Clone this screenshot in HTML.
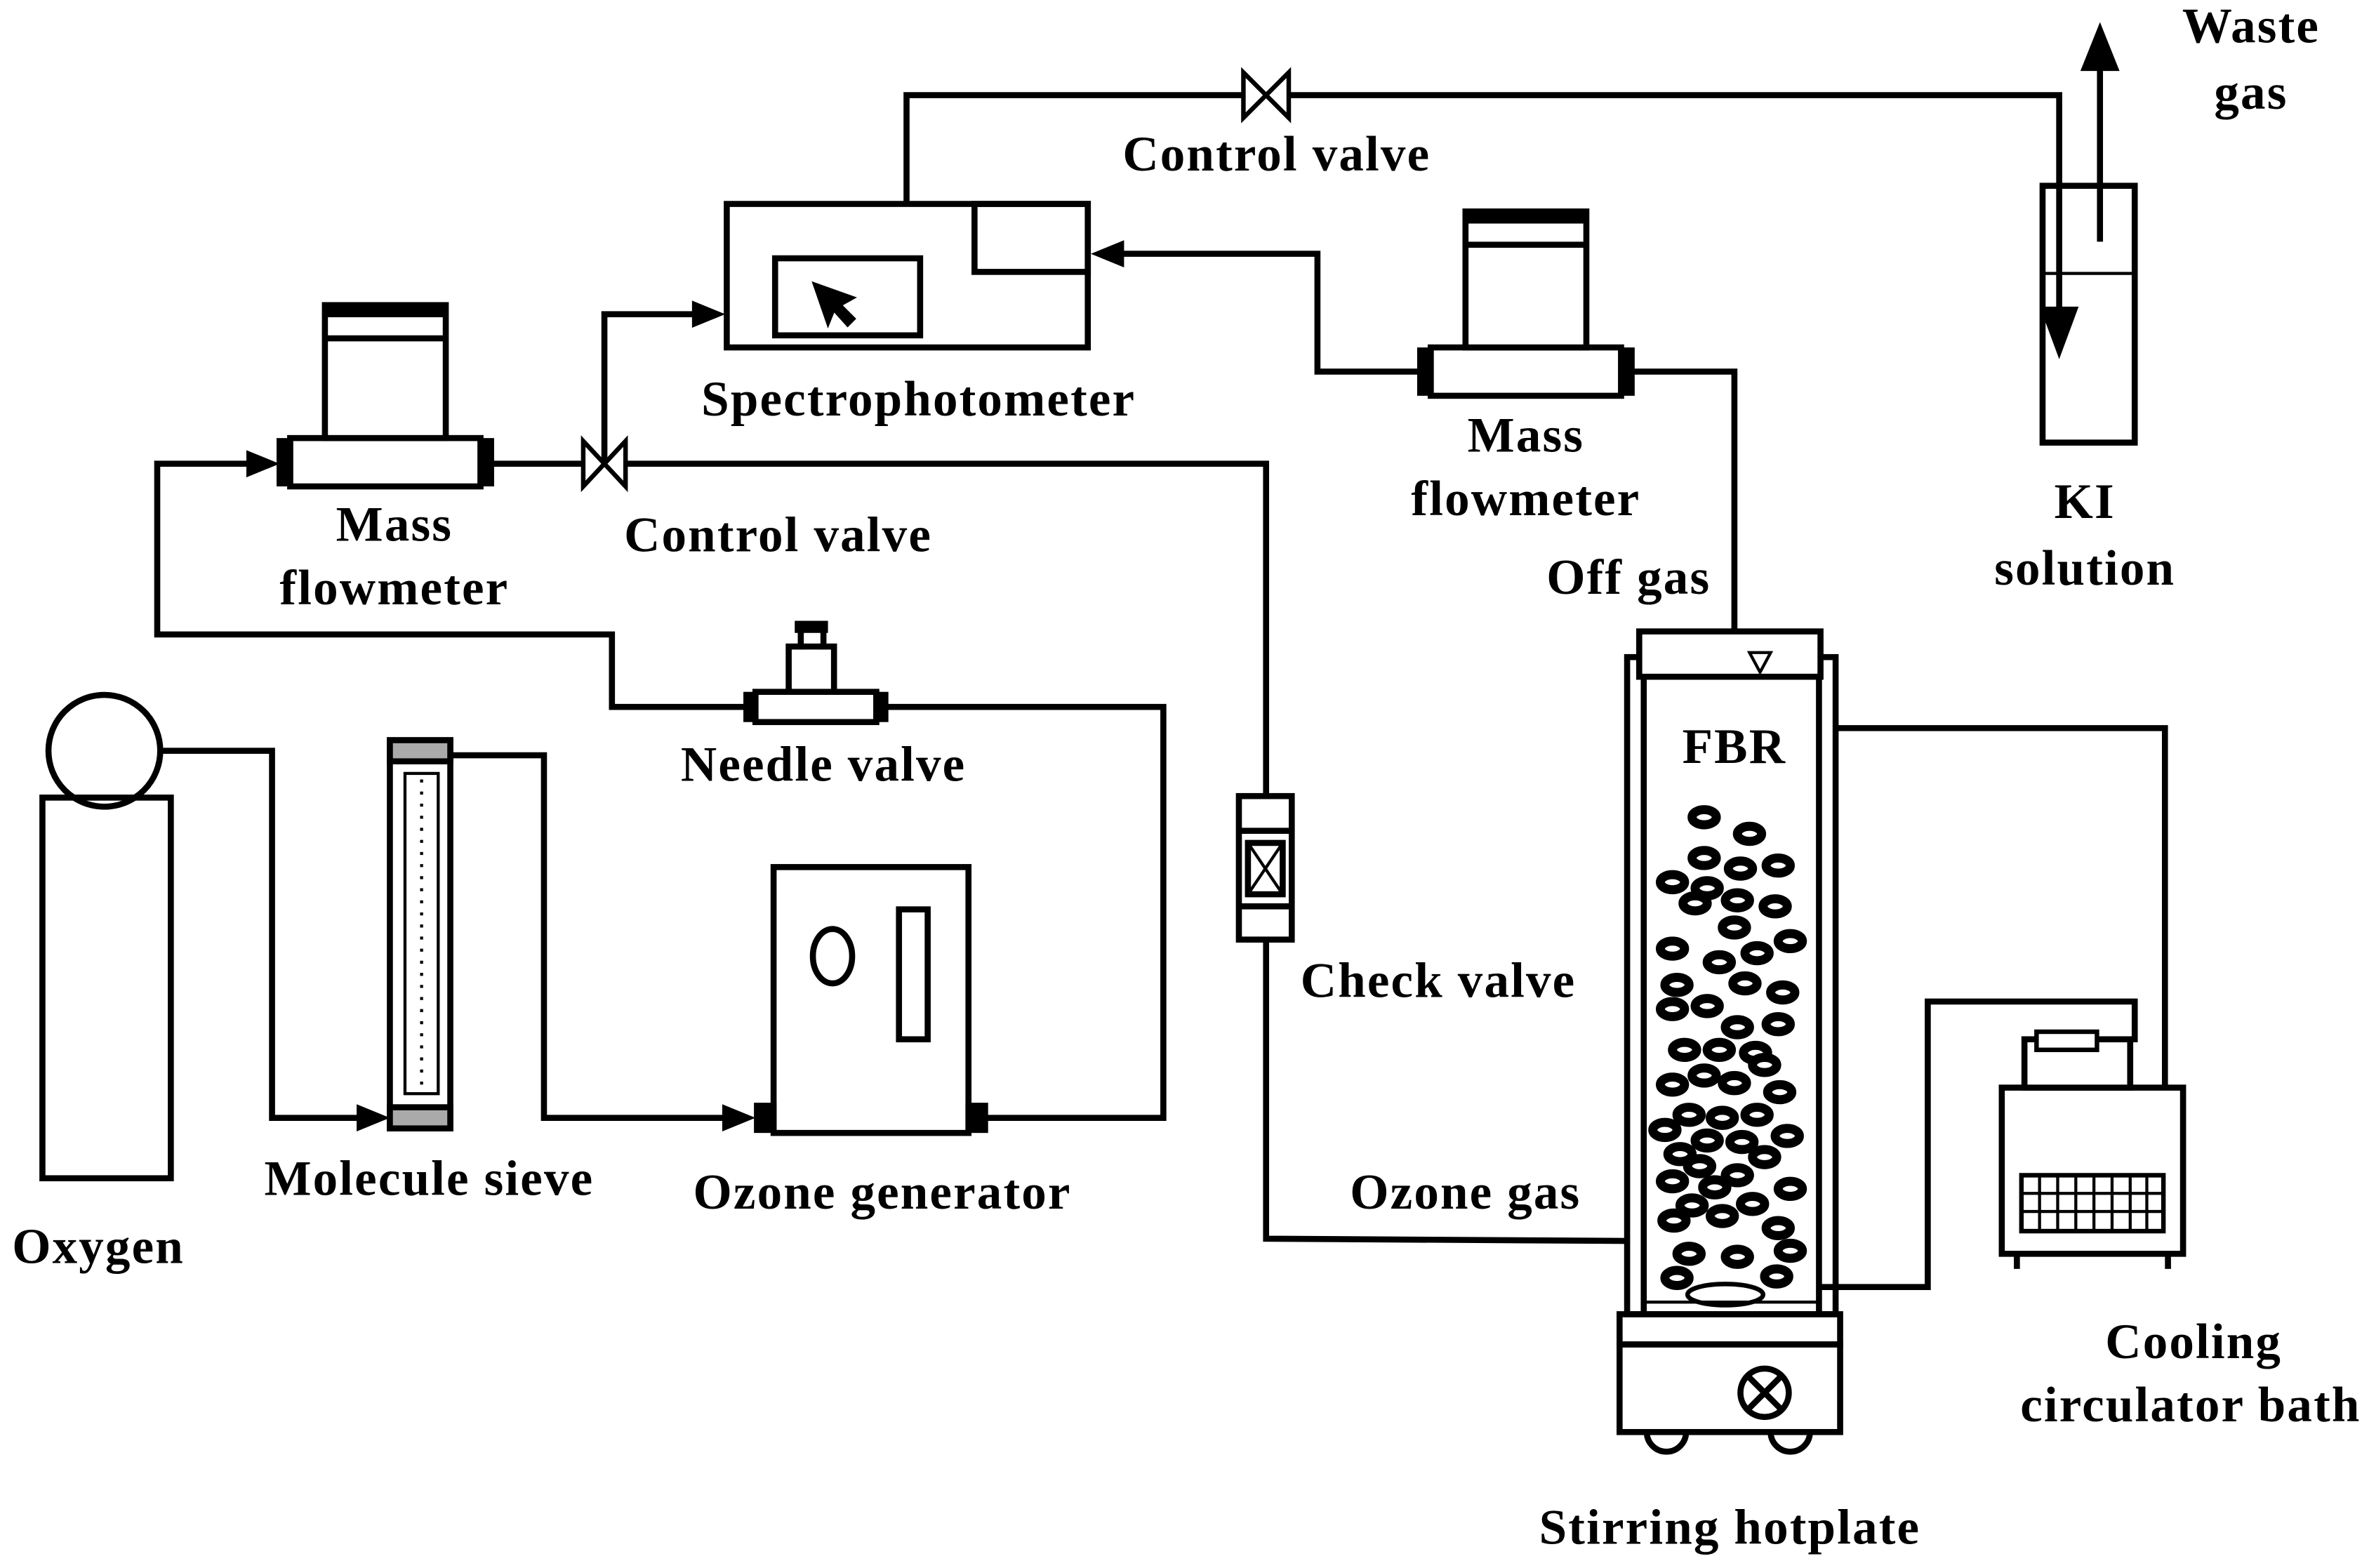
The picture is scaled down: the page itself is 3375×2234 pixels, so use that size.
<!DOCTYPE html>
<html><head><meta charset="utf-8"><style>
html,body{margin:0;padding:0;background:#fff;}
svg{display:block;}
text{font-family:"Liberation Serif",serif;font-weight:bold;font-size:33px;letter-spacing:1px;fill:#000;text-anchor:middle;}
</style></head><body>
<svg width="3375" height="2234" viewBox="0 0 1568 1038" xmlns="http://www.w3.org/2000/svg">
<g fill="none" stroke="#000" stroke-width="4">
<circle cx="69" cy="497" r="37" fill="#fff"/>
<rect x="28" y="528" width="85" height="252"/>
<polyline points="106,497 180,497 180,740 238,740"/>
<rect x="258" y="490" width="40" height="257" fill="#fff"/>
<rect x="258" y="490" width="40" height="14" fill="#aaa"/>
<rect x="258" y="733" width="40" height="14" fill="#aaa"/>
<rect x="268" y="512" width="22" height="212" stroke-width="2"/>
<line x1="279" y1="516" x2="279" y2="720" stroke-width="2" stroke-dasharray="2,6"/>
<polyline points="298,500 360,500 360,740 482,740"/>
<rect x="512" y="574" width="129" height="176" fill="#fff"/>
<ellipse cx="551" cy="633" rx="13" ry="18"/>
<rect x="595" y="602" width="19" height="86"/>
<rect x="501" y="732" width="11" height="16" fill="#000"/>
<rect x="641" y="732" width="11" height="16" fill="#000"/>
<polyline points="652,740 770,740 770,468 584,468"/>
<rect x="500" y="458" width="80" height="20" fill="#fff"/>
<rect x="494" y="460" width="6" height="16" fill="#000"/>
<rect x="580" y="460" width="6" height="16" fill="#000"/>
<rect x="522" y="428" width="30" height="30" fill="#fff"/>
<line x1="526" y1="415" x2="548" y2="415" stroke-width="8"/>
<line x1="530" y1="415" x2="530" y2="430"/>
<line x1="545" y1="415" x2="545" y2="430"/>
<polyline points="494,468 405,468 405,420 104,420 104,307 167,307"/>
<rect x="192" y="290" width="126" height="32" fill="#fff"/>
<rect x="185" y="292" width="7" height="28" fill="#000"/>
<rect x="318" y="292" width="7" height="28" fill="#000"/>
<rect x="215" y="202" width="80" height="88" fill="#fff"/>
<line x1="215" y1="205" x2="295" y2="205" stroke-width="10"/>
<line x1="215" y1="224" x2="295" y2="224"/>
<polyline points="325,307 386,307"/>
<path d="M386,292 L414,322 L414,292 L386,322 Z" fill="#fff" stroke-width="3"/>
<polyline points="414,307 838,307 838,527"/>
<polyline points="400,307 400,208 462,208"/>
<rect x="481" y="135" width="239" height="95" fill="#fff"/>
<rect x="513" y="171" width="96" height="51"/>
<rect x="645" y="135" width="75" height="45"/>
<path d="M538,187 L548,216 L552,206 L561,216 L566,211 L557,202 L566,197 Z" fill="#000" stroke-width="1"/>
<polyline points="600,135 600,63 823,63"/>
<path d="M823,48 L853,78 L853,48 L823,78 Z" fill="#fff" stroke-width="3"/>
<polyline points="853,63 1363,63 1363,212"/>
<rect x="1352" y="123" width="61" height="170"/>
<line x1="1352" y1="181" x2="1413" y2="181" stroke-width="2"/>
<line x1="1390" y1="160" x2="1390" y2="40"/>
<path d="M1380,45 L1390,20 L1400,45 Z" fill="#000"/>
<path d="M1353,205 L1363,232 L1373,205 Z" fill="#000"/>
<rect x="947" y="230" width="126" height="32" fill="#fff"/>
<rect x="940" y="232" width="7" height="28" fill="#000"/>
<rect x="1073" y="232" width="7" height="28" fill="#000"/>
<rect x="970" y="140" width="80" height="90" fill="#fff"/>
<line x1="970" y1="143" x2="1050" y2="143" stroke-width="10"/>
<line x1="970" y1="162" x2="1050" y2="162"/>
<polyline points="940,246 872,246 872,168 740,168"/>
<polyline points="1080,246 1148,246 1148,420"/>
<rect x="820" y="527" width="35" height="95" fill="#fff"/>
<line x1="820" y1="550" x2="855" y2="550"/>
<line x1="820" y1="600" x2="855" y2="600"/>
<rect x="826" y="558" width="23" height="34"/>
<line x1="826" y1="558" x2="849" y2="592" stroke-width="2"/>
<line x1="849" y1="558" x2="826" y2="592" stroke-width="2"/>
<polyline points="838,622 838,820 1155,822"/>
<rect x="1077" y="435" width="138" height="435" fill="#fff"/>
<line x1="1088" y1="435" x2="1088" y2="870"/>
<line x1="1204" y1="435" x2="1204" y2="870"/>
<rect x="1085" y="418" width="120" height="30" fill="#fff"/>
<path d="M1158,432 L1172,432 L1165,445 Z" stroke-width="2"/>
<line x1="1088" y1="862" x2="1204" y2="862" stroke-width="2"/>
<ellipse cx="1142" cy="857" rx="25" ry="7" stroke-width="3"/>
<rect x="1072" y="870" width="146" height="20"/>
<rect x="1072" y="890" width="146" height="58"/>
<circle cx="1168" cy="922" r="16"/>
<line x1="1157" y1="911" x2="1179" y2="933"/>
<line x1="1179" y1="911" x2="1157" y2="933"/>
<path d="M1090,948 A13,13 0 0 0 1116,948"/>
<path d="M1172,948 A13,13 0 0 0 1198,948"/>
<polyline points="1215,482 1433,482 1433,720"/>
<polyline points="1204,852 1276,852 1276,663 1413,663 1413,690"/>
<rect x="1325" y="720" width="120" height="110" fill="#fff"/>
<rect x="1340" y="688" width="70" height="32" fill="#fff"/>
<rect x="1348" y="683" width="40" height="12" fill="#fff" stroke-width="3"/>
<rect x="1338" y="778" width="94" height="37" stroke-width="3"/>
<line x1="1338" y1="790" x2="1432" y2="790" stroke-width="2"/>
<line x1="1338" y1="802" x2="1432" y2="802" stroke-width="2"/>
<line x1="1350" y1="778" x2="1350" y2="815" stroke-width="2"/>
<line x1="1362" y1="778" x2="1362" y2="815" stroke-width="2"/>
<line x1="1374" y1="778" x2="1374" y2="815" stroke-width="2"/>
<line x1="1386" y1="778" x2="1386" y2="815" stroke-width="2"/>
<line x1="1398" y1="778" x2="1398" y2="815" stroke-width="2"/>
<line x1="1410" y1="778" x2="1410" y2="815" stroke-width="2"/>
<line x1="1421" y1="778" x2="1421" y2="815" stroke-width="2"/>
<line x1="1335" y1="830" x2="1335" y2="840"/>
<line x1="1435" y1="830" x2="1435" y2="840"/>
</g>
<g fill="#000">
<path d="M236,731 L258,740 L236,749 Z"/>
<path d="M478,731 L500,740 L478,749 Z"/>
<path d="M163,298 L185,307 L163,316 Z"/>
<path d="M458,199 L480,208 L458,217 Z"/>
<path d="M744,159 L722,168 L744,177 Z"/>
</g>
<g fill="#fff" stroke="#000" stroke-width="6">
<ellipse cx="1128" cy="541" rx="8" ry="5"/><ellipse cx="1158" cy="552" rx="8" ry="5"/>
<ellipse cx="1128" cy="568" rx="8" ry="5"/><ellipse cx="1152" cy="575" rx="8" ry="5"/><ellipse cx="1177" cy="573" rx="8" ry="5"/>
<ellipse cx="1107" cy="584" rx="8" ry="5"/><ellipse cx="1130" cy="588" rx="8" ry="5"/>
<ellipse cx="1122" cy="598" rx="8" ry="5"/><ellipse cx="1150" cy="596" rx="8" ry="5"/><ellipse cx="1175" cy="600" rx="8" ry="5"/>
<ellipse cx="1148" cy="614" rx="8" ry="5"/><ellipse cx="1185" cy="623" rx="8" ry="5"/>
<ellipse cx="1107" cy="628" rx="8" ry="5"/><ellipse cx="1138" cy="637" rx="8" ry="5"/><ellipse cx="1163" cy="631" rx="8" ry="5"/>
<ellipse cx="1110" cy="652" rx="8" ry="5"/><ellipse cx="1155" cy="651" rx="8" ry="5"/><ellipse cx="1180" cy="657" rx="8" ry="5"/>
<ellipse cx="1107" cy="668" rx="8" ry="5"/><ellipse cx="1130" cy="666" rx="8" ry="5"/>
<ellipse cx="1150" cy="680" rx="8" ry="5"/><ellipse cx="1177" cy="678" rx="8" ry="5"/>
<ellipse cx="1115" cy="695" rx="8" ry="5"/><ellipse cx="1138" cy="695" rx="8" ry="5"/><ellipse cx="1162" cy="697" rx="8" ry="5"/>
<ellipse cx="1107" cy="718" rx="8" ry="5"/><ellipse cx="1128" cy="712" rx="8" ry="5"/><ellipse cx="1148" cy="717" rx="8" ry="5"/><ellipse cx="1178" cy="723" rx="8" ry="5"/>
<ellipse cx="1168" cy="705" rx="8" ry="5"/>
<ellipse cx="1118" cy="738" rx="8" ry="5"/><ellipse cx="1140" cy="740" rx="8" ry="5"/><ellipse cx="1163" cy="738" rx="8" ry="5"/>
<ellipse cx="1102" cy="748" rx="8" ry="5"/><ellipse cx="1130" cy="755" rx="8" ry="5"/><ellipse cx="1153" cy="756" rx="8" ry="5"/><ellipse cx="1183" cy="752" rx="8" ry="5"/>
<ellipse cx="1112" cy="764" rx="8" ry="5"/><ellipse cx="1168" cy="766" rx="8" ry="5"/>
<ellipse cx="1125" cy="772" rx="8" ry="5"/><ellipse cx="1150" cy="778" rx="8" ry="5"/>
<ellipse cx="1107" cy="782" rx="8" ry="5"/><ellipse cx="1135" cy="786" rx="8" ry="5"/><ellipse cx="1185" cy="787" rx="8" ry="5"/>
<ellipse cx="1160" cy="797" rx="8" ry="5"/><ellipse cx="1120" cy="798" rx="8" ry="5"/>
<ellipse cx="1108" cy="808" rx="8" ry="5"/><ellipse cx="1140" cy="805" rx="8" ry="5"/><ellipse cx="1177" cy="813" rx="8" ry="5"/>
<ellipse cx="1118" cy="830" rx="8" ry="5"/><ellipse cx="1150" cy="832" rx="8" ry="5"/><ellipse cx="1185" cy="828" rx="8" ry="5"/>
<ellipse cx="1110" cy="846" rx="8" ry="5"/><ellipse cx="1176" cy="845" rx="8" ry="5"/>
</g>
<text x="65" y="836">Oxygen</text>
<text x="284" y="791">Molecule sieve</text>
<text x="584" y="800">Ozone generator</text>
<text x="545" y="517">Needle valve</text>
<text x="261" y="358">Mass</text>
<text x="261" y="400">flowmeter</text>
<text x="515" y="365">Control valve</text>
<text x="608" y="275">Spectrophotometer</text>
<text x="845" y="113">Control valve</text>
<text x="1010" y="299">Mass</text>
<text x="1010" y="341">flowmeter</text>
<text x="1078" y="393">Off gas</text>
<text x="1490" y="28">Waste</text>
<text x="1490" y="72">gas</text>
<text x="1380" y="343">KI</text>
<text x="1380" y="387">solution</text>
<text x="1148" y="505">FBR</text>
<text x="952" y="660">Check valve</text>
<text x="970" y="800">Ozone gas</text>
<text x="1145" y="1022">Stirring hotplate</text>
<text x="1452" y="899">Cooling</text>
<text x="1450" y="941">circulator bath</text>
</svg>
</body></html>
